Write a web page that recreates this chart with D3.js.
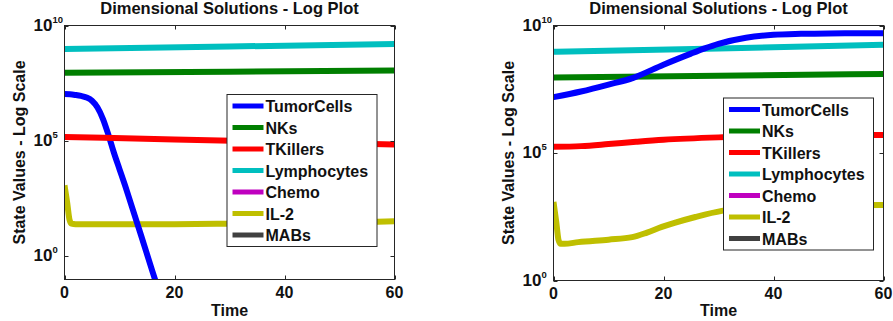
<!DOCTYPE html>
<html>
<head>
<meta charset="utf-8">
<script src="https://cdn.jsdelivr.net/npm/d3@7"></script>
<style>
  body { margin: 0; background: #fff; }
  svg text { font-family: "Liberation Sans", Arial, Helvetica, sans-serif; font-weight: bold; fill: #111; }
</style>
</head>
<body>
<div id="chart"></div>
<script>
// ---- data (time in days, values on log axis) ----
const legendNames = ["TumorCells", "NKs", "TKillers", "Lymphocytes", "Chemo", "IL-2", "MABs"];
const legendColors = ["#0000ff", "#007f00", "#ff0000", "#00bfbf", "#bf00bf", "#bfbf00", "#404040"];
const xTicks = [0, 20, 40, 60];

// left panel
const tumorT_A = [0, 1, 2, 3, 4, 5, 6, 7, 8, 9, 10, 11, 12, 14, 16, 17.5];
const tumorV_A = [1.07e7, 1.05e7, 9.8e6, 8.9e6, 7.6e6, 5.5e6, 2.8e6, 8.9e5, 1.8e5, 3.0e4, 6.0e3, 1.2e3, 2.2e2, 7.1, 0.22, 0.017];
const nkT_A = [0, 30, 60];
const nkV_A = [8.9e7, 1.0e8, 1.12e8];
const tkT_A = [0, 20, 40, 60];
const tkV_A = [1.5e5, 1.17e5, 9.0e4, 7.1e4];
const lymT_A = [0, 30, 60];
const lymV_A = [9.5e8, 1.23e9, 1.58e9];
const il2T_A = [0, 0.5, 0.9, 1.3, 2, 10, 20, 30, 40, 50, 60];
const il2V_A = [1200, 200, 40, 26, 24.5, 24.5, 25, 26, 28, 30, 33];

// right panel
const tumorT_B = [0, 5, 10, 14.5, 20, 25, 27.5, 30, 35, 40, 45, 50, 60];
const tumorV_B = [1.55e7, 2.57e7, 4.8e7, 8.9e7, 2.9e8, 7.9e8, 1.26e9, 1.9e9, 3.3e9, 4.3e9, 4.7e9, 4.9e9, 5.0e9];
const nkT_B = [0, 30, 60];
const nkV_B = [9.1e7, 1.07e8, 1.26e8];
const tkT_B = [0, 5, 10, 15, 20, 30, 40, 60];
const tkV_B = [1.74e5, 1.86e5, 2.24e5, 2.75e5, 3.3e5, 4.1e5, 4.6e5, 5.1e5];
const lymT_B = [0, 30, 60];
const lymV_B = [9.3e8, 1.26e9, 1.74e9];
const il2T_B = [0, 0.5, 0.9, 1.3, 2, 4.5, 10, 14.3, 17, 19.7, 22, 25.8, 30.6, 35, 40, 50, 60];
const il2V_B = [1200, 200, 40, 27.5, 27.5, 32, 40, 50, 76, 126, 182, 309, 537, 692, 794, 891, 912];

const width = 893, height = 321;

const svg = d3.select("#chart").append("svg")
  .attr("width", width)
  .attr("height", height);

function zip(ts, vs) { return ts.map((t, i) => ({ t: t, v: vs[i] })); }

function drawPanel(cfg) {
  const x = d3.scaleLinear().domain([0, 60]).range([cfg.left, cfg.right]);
  const y = d3.scaleLog().domain(cfg.yDomain).range([cfg.bottom, cfg.top]);
  const g = svg.append("g");

  const clipId = "clip" + cfg.id;
  g.append("clipPath").attr("id", clipId)
    .append("rect")
    .attr("x", cfg.left).attr("y", cfg.top)
    .attr("width", cfg.right - cfg.left).attr("height", cfg.bottom - cfg.top);

  const line = d3.line()
    .x(d => x(d.t))
    .y(d => y(d.v))
    .curve(d3.curveMonotoneX);

  // drawing order as it appears in the picture
  const series = [
    { data: zip(cfg.nkT, cfg.nkV), color: legendColors[1] },
    { data: zip(cfg.lymT, cfg.lymV), color: legendColors[3] },
    { data: zip(cfg.il2T, cfg.il2V), color: legendColors[5] },
    { data: zip(cfg.tumorT, cfg.tumorV), color: legendColors[0] },
    { data: zip(cfg.tkT, cfg.tkV), color: legendColors[2] }
  ];

  g.append("g").attr("clip-path", "url(#" + clipId + ")")
    .selectAll("path")
    .data(series)
    .join("path")
    .attr("d", d => line(d.data))
    .attr("fill", "none")
    .attr("stroke", d => d.color)
    .attr("stroke-width", 6)
    .attr("stroke-linejoin", "round");

  // box
  g.append("rect")
    .attr("x", cfg.left).attr("y", cfg.top)
    .attr("width", cfg.right - cfg.left).attr("height", cfg.bottom - cfg.top)
    .attr("fill", "none").attr("stroke", "#262626").attr("stroke-width", 1);

  // x ticks (inward, bottom and top)
  const tl = 4;
  xTicks.forEach(t => {
    const px = Math.round(x(t)) + 0.5;
    g.append("line").attr("x1", px).attr("x2", px).attr("y1", cfg.bottom).attr("y2", cfg.bottom - tl)
      .attr("stroke", "#262626");
    g.append("line").attr("x1", px).attr("x2", px).attr("y1", cfg.top).attr("y2", cfg.top + tl)
      .attr("stroke", "#262626");
    g.append("text").attr("x", x(t)).attr("y", cfg.bottom + 18)
      .attr("text-anchor", "middle").attr("font-size", 16).text(t);
  });

  // y ticks at decades
  cfg.yTicks.forEach(e => {
    const py = Math.round(y(Math.pow(10, e))) + 0.5;
    g.append("line").attr("x1", cfg.left).attr("x2", cfg.left + tl).attr("y1", py).attr("y2", py)
      .attr("stroke", "#262626");
    g.append("line").attr("x1", cfg.right).attr("x2", cfg.right - tl).attr("y1", py).attr("y2", py)
      .attr("stroke", "#262626");
    const lab = g.append("text").attr("x", cfg.left - 12).attr("y", py + 4)
      .attr("text-anchor", "end").attr("font-size", 17).text("10");
    g.append("text").attr("x", cfg.left - 12).attr("y", py - 4)
      .attr("font-size", 9.5).text(e);
  });

  // title and axis labels
  const cx = (cfg.left + cfg.right) / 2;
  g.append("text").attr("x", cx).attr("y", 14)
    .attr("text-anchor", "middle").attr("font-size", 16.5)
    .text("Dimensional Solutions - Log Plot");
  g.append("text").attr("x", cx).attr("y", 316)
    .attr("text-anchor", "middle").attr("font-size", 16).text("Time");
  g.append("text")
    .attr("transform", "translate(" + (cfg.left - 40) + "," + ((cfg.top + cfg.bottom) / 2) + ") rotate(-90)")
    .attr("text-anchor", "middle").attr("font-size", 16)
    .text("State Values - Log Scale");

  // legend
  const lg = g.append("g");
  lg.append("rect")
    .attr("x", cfg.legX + 0.5).attr("y", cfg.legY + 0.5)
    .attr("width", 150).attr("height", 152)
    .attr("fill", "#fff").attr("stroke", "#262626");
  const rows = lg.selectAll("g.row")
    .data(legendNames)
    .join("g")
    .attr("class", "row")
    .attr("transform", (d, i) => "translate(" + cfg.legX + "," + (cfg.legY + 12 + i * 21.5) + ")");
  rows.append("line")
    .attr("x1", 6).attr("x2", 37).attr("y1", 0).attr("y2", 0)
    .attr("stroke", (d, i) => legendColors[i]).attr("stroke-width", 5);
  rows.append("text")
    .attr("x", 39).attr("y", 6)
    .attr("font-size", 16)
    .text(d => d);
}

drawPanel({
  id: "A", left: 64.5, right: 394.5, top: 25.5, bottom: 279.5,
  yDomain: [0.1, 1e10], yTicks: [0, 5, 10],
  legX: 226.5, legY: 94,
  tumorT: tumorT_A, tumorV: tumorV_A, nkT: nkT_A, nkV: nkV_A, tkT: tkT_A, tkV: tkV_A,
  lymT: lymT_A, lymV: lymV_A, il2T: il2T_A, il2V: il2V_A
});

drawPanel({
  id: "B", left: 553.5, right: 883.5, top: 25.5, bottom: 280.5,
  yDomain: [1, 1e10], yTicks: [0, 5, 10],
  legX: 723, legY: 97.5,
  tumorT: tumorT_B, tumorV: tumorV_B, nkT: nkT_B, nkV: nkV_B, tkT: tkT_B, tkV: tkV_B,
  lymT: lymT_B, lymV: lymV_B, il2T: il2T_B, il2V: il2V_B
});
</script>
</body>
</html>
